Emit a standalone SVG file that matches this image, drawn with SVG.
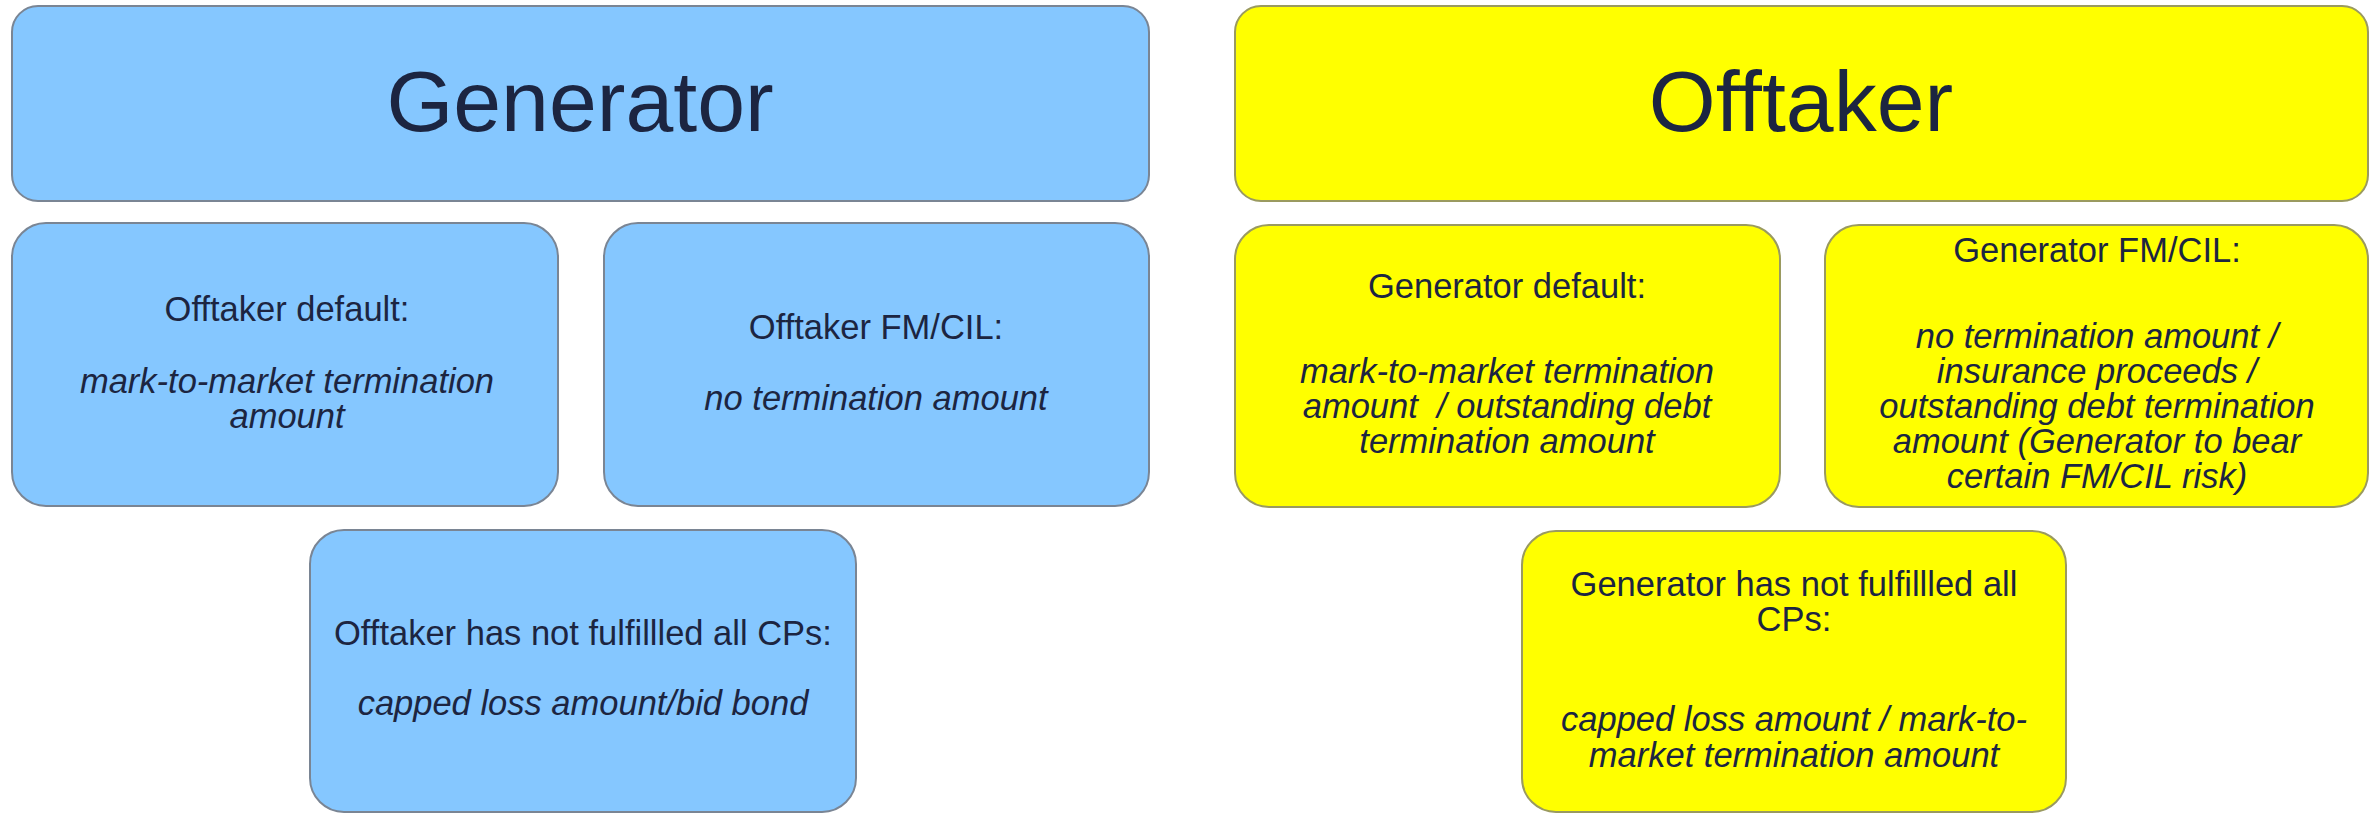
<svg xmlns="http://www.w3.org/2000/svg" width="2379" height="815" viewBox="0 0 2379 815">
<style>
text{font-family:"Liberation Sans",Arial,sans-serif;fill:#1c2541;text-anchor:middle}
.big{font-size:86px}
.t{font-size:34.5px}
.i{font-style:italic}
.blue{fill:#85c7ff;stroke:#7a8594;stroke-width:2}
.yel{fill:#ffff00;stroke:#9a9a60;stroke-width:2}
</style>
<rect width="2379" height="815" fill="#ffffff"/>
<g id="generator">
<rect class="blue" x="12" y="6" width="1137" height="195" rx="26"/>
<text class="big" x="580" y="131">Generator</text>
</g>
<g id="offtaker">
<rect class="yel" x="1235" y="6" width="1133" height="195" rx="26"/>
<text class="big" x="1801" y="131">Offtaker</text>
</g>
<g id="offtaker-default">
<rect class="blue" x="12" y="223" width="546" height="283" rx="34"/>
<text class="t" x="287" y="321">Offtaker default:</text>
<text class="t i" x="287" y="393">mark-to-market termination</text>
<text class="t i" x="287" y="428">amount</text>
</g>
<g id="offtaker-fmcil">
<rect class="blue" x="604" y="223" width="545" height="283" rx="34"/>
<text class="t" x="876" y="339">Offtaker FM/CIL:</text>
<text class="t i" x="876" y="410">no termination amount</text>
</g>
<g id="offtaker-cps">
<rect class="blue" x="310" y="530" width="546" height="282" rx="34"/>
<text class="t" x="583" y="645">Offtaker has not fulfillled all CPs:</text>
<text class="t i" x="583" y="715">capped loss amount/bid bond</text>
</g>
<g id="generator-default">
<rect class="yel" x="1235" y="225" width="545" height="282" rx="34"/>
<text class="t" x="1507" y="298">Generator default:</text>
<text class="t i" x="1507" y="383">mark-to-market termination</text>
<text class="t i" x="1507" y="418" xml:space="preserve">amount  / outstanding debt</text>
<text class="t i" x="1507" y="453">termination amount</text>
</g>
<g id="generator-fmcil">
<rect class="yel" x="1825" y="225" width="543" height="282" rx="34"/>
<text class="t" x="2097" y="262">Generator FM/CIL:</text>
<text class="t i" x="2097" y="348">no termination amount /</text>
<text class="t i" x="2097" y="383">insurance proceeds /</text>
<text class="t i" x="2097" y="418">outstanding debt termination</text>
<text class="t i" x="2097" y="453">amount (Generator to bear</text>
<text class="t i" x="2097" y="488">certain FM/CIL risk)</text>
</g>
<g id="generator-cps">
<rect class="yel" x="1522" y="531" width="544" height="281" rx="34"/>
<text class="t" x="1794" y="596">Generator has not fulfillled all</text>
<text class="t" x="1794" y="631">CPs:</text>
<text class="t i" x="1794" y="731">capped loss amount / mark-to-</text>
<text class="t i" x="1794" y="767">market termination amount</text>
</g>
<g id="connectors"></g>
</svg>
